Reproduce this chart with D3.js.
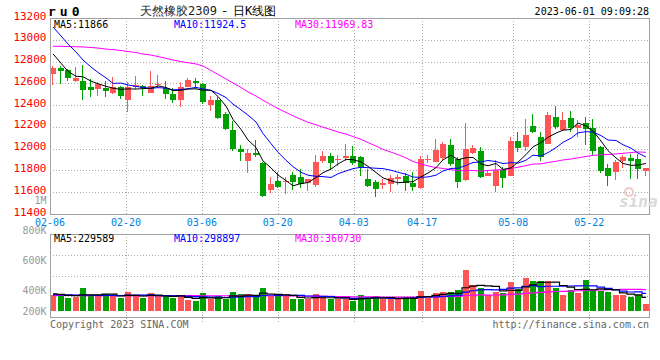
<!DOCTYPE html>
<html><head><meta charset="utf-8">
<script src="https://cdn.jsdelivr.net/npm/d3@7"></script>
<style>
html,body{margin:0;padding:0;background:#fff;}
svg{display:block;}
text{font-family:"DejaVu Sans Mono",monospace;}
</style></head><body>
<svg id="c" width="660" height="360"></svg>
<script>
// ---------- DATA ----------
const dates = [
 "02-06","02-07","02-08","02-09","02-10","02-13","02-14","02-15","02-16","02-17",
 "02-20","02-21","02-22","02-23","02-24","02-27","02-28","03-01","03-02","03-03",
 "03-06","03-07","03-08","03-09","03-10","03-13","03-14","03-15","03-16","03-17",
 "03-20","03-21","03-22","03-23","03-24","03-27","03-28","03-29","03-30","03-31",
 "04-03","04-04","04-06","04-07","04-10","04-11","04-12","04-13","04-14","04-17",
 "04-18","04-19","04-20","04-21","04-24","04-25","04-26","04-27","04-28","05-04",
 "05-05","05-08","05-09","05-10","05-11","05-12","05-15","05-16","05-17","05-18",
 "05-19","05-22","05-23","05-24","05-25","05-26","05-29","05-30","05-31","06-01"];
const open = [
 12690,12740,12722,12621,12621,12566,12551,12560,12505,12566,
 12447,12569,12575,12514,12588,12554,12505,12447,12569,12621,
 12597,12404,12447,12321,12171,12000,11890,11960,11868,11617,
 11703,11694,11758,11737,11685,11669,11887,11930,11896,11914,
 11933,11923,11721,11691,11666,11672,11721,11752,11682,11639,
 11899,11881,11917,12034,11908,11715,11954,11979,11752,11660,
 11801,11752,12070,12018,12208,12104,12049,12291,12171,12282,
 12193,12233,12187,12015,11822,11789,11881,11911,11902,11792];
const high = [
 12755,12760,12731,12750,12768,12640,12612,12621,12658,12575,
 12612,12667,12582,12713,12676,12621,12554,12612,12649,12649,
 12600,12484,12477,12337,12254,12031,12000,12080,11875,11740,
 11783,11740,11789,11810,11721,11940,11975,11960,11939,12043,
 12024,11930,11810,11709,11718,11761,11767,11773,11783,11933,
 11942,12086,12064,12086,11920,12236,12034,12015,11807,11896,
 11835,12110,12156,12272,12315,12156,12340,12392,12340,12346,
 12260,12291,12272,12021,11859,11893,11942,11951,11951,11822];
const low = [
 12585,12595,12624,12612,12447,12477,12484,12477,12505,12456,
 12340,12548,12487,12514,12557,12459,12422,12386,12569,12551,
 12410,12346,12275,12171,11975,11890,11780,11927,11555,11590,
 11642,11581,11623,11642,11614,11645,11871,11801,11841,11887,
 11850,11749,11651,11559,11630,11605,11666,11614,11614,11633,
 11865,11881,11896,11841,11642,11706,11954,11734,11752,11599,
 11642,11746,11972,11979,12147,11884,12043,12178,12165,12153,
 12107,12034,11945,11780,11660,11715,11822,11718,11724,11746];
const close = [
 12745,12715,12652,12649,12542,12542,12597,12533,12563,12487,
 12566,12588,12554,12575,12597,12496,12447,12566,12631,12606,
 12432,12447,12282,12187,11994,11975,11960,11939,11568,11675,
 11648,11706,11697,11672,11721,11877,11930,11862,11905,11933,
 11865,11829,11657,11623,11685,11731,11740,11685,11645,11905,
 11905,11988,12043,11859,11697,11997,12003,11740,11777,11804,
 11724,12070,12006,12125,12156,11923,12312,12199,12260,12190,
 12217,12174,11972,11798,11749,11881,11920,11887,11810,11822];
const volume = [
 263000,246000,218000,235000,386000,263000,246000,280000,246000,224000,
 319000,246000,224000,297000,246000,246000,218000,263000,179000,162000,
 302000,196000,246000,207000,314000,280000,280000,235000,386000,246000,
 246000,246000,196000,207000,196000,280000,235000,196000,196000,196000,
 162000,263000,235000,246000,196000,196000,196000,235000,235000,330000,
 218000,297000,314000,314000,347000,683000,431000,386000,263000,314000,
 297000,482000,375000,549000,498000,498000,498000,386000,263000,358000,
 302000,515000,347000,336000,314000,263000,263000,235000,275000,112000];
// moving-average values before enough in-window history exists
const ma5Head  = [12870,12785,12710,12665];
const ma10Head = [13117,13035,12961,12888,12814,12750,12700,12650,12600];
const ma30Head = [12940,12940,12938,12936,12934,12929,12924,12915,12909,12902,
                  12892,12883,12869,12860,12846,12830,12814,12800,12789,12778,
                  12759,12718,12681,12640,12603,12562,12520,12484,12445];
const vma5Head  = [290000,280000,262000,258000];
const vma10Head = [275000,272000,270000,268000,266000,265000,264000,262000,261000];
const vma30Head = [262000,262000,261000,261000,260000,260000,260000,259000,259000,259000,
                   258000,258000,258000,258000,257000,257000,257000,257000,257000,257000,
                   256000,256000,256000,256000,256000,256000,256000,256000,256000];
const priceTicks = [11400,11600,11800,12000,12200,12400,12600,12800,13000,13200];
const volTicks = [200000,400000,600000,800000,1000000];
const volTickLabels = ["200K","400K","600K","800K","1M"];
const dateTicks = ["02-06","02-20","03-06","03-20","04-03","04-17","05-08","05-22"];
const symbol = "ru0";
const titleName = "天然橡胶2309";
const titleSuffix = "日K线图";
const timestamp = "2023-06-01 09:09:28";
const maLabels = ["MA5:11866","MA10:11924.5","MA30:11969.83"];
const vmaLabels = ["MA5:229589","MA10:298897","MA30:360730"];

// ---------- LAYOUT ----------
const L = 50, R = 650;
const pTop = 18, pBot = 214;
const vTop = 234, vBot = 317;
const UP = "#ff5555", DOWN = "#00a000";
const C5 = "#000000", C10 = "#0000ff", C30 = "#ff00ff";
const GRID = "#aaaaaa", FRAME = "#a0a0a0";

const svg = d3.select("#c");
const xb = d3.scaleBand().domain(dates).range([L, 648.5]).paddingInner(0.2).paddingOuter(0);
const xg = d3.scalePoint().domain(dates).range([L, R]);
const y = d3.scaleLinear().domain([11400, 13200]).range([pBot, pTop]);
const vy = d3.scaleLinear().domain([0, 1000000]).range([311, 251.5]);
const vLab = d3.scaleLinear().domain([200000, 1000000]).range([324, 204]);

const bx = d => Math.round(xb(d));
function ma(arr, n, head) {
  return arr.map((_, i) => i >= n - 1 ? d3.mean(arr.slice(i - n + 1, i + 1)) : head[i]);
}

svg.append("defs").call(d => {
  d.append("clipPath").attr("id", "pc").append("rect").attr("x", L).attr("y", pTop).attr("width", R - L).attr("height", pBot - pTop);
  d.append("clipPath").attr("id", "vc").append("rect").attr("x", L).attr("y", vTop).attr("width", R - L).attr("height", vBot - vTop);
});

// ---------- PRICE PANEL GRID ----------
const gP = svg.append("g").attr("shape-rendering", "crispEdges");
gP.selectAll(".hg").data(priceTicks.filter(v => v > 11400 && v < 13200)).join("line")
  .attr("x1", L).attr("x2", R).attr("y1", d => Math.round(y(d)) + 0.5).attr("y2", d => Math.round(y(d)) + 0.5)
  .attr("stroke", GRID).attr("stroke-dasharray", "1,2");
gP.selectAll(".vg").data(dateTicks.slice(1)).join("line")
  .attr("x1", d => Math.round(xg(d)) + 0.5).attr("x2", d => Math.round(xg(d)) + 0.5)
  .attr("y1", pTop).attr("y2", pBot + 2)
  .attr("stroke", GRID).attr("stroke-dasharray", "1,2");

// ---------- VOLUME PANEL GRID ----------
const gV = svg.append("g").attr("shape-rendering", "crispEdges");
const vLines = d3.range(1, 4).map(k => vTop + k * (vBot - vTop) / 4);
gV.selectAll(".hg").data(vLines).join("line")
  .attr("x1", L).attr("x2", R).attr("y1", d => Math.round(d) + 0.5).attr("y2", d => Math.round(d) + 0.5)
  .attr("stroke", GRID).attr("stroke-dasharray", "1,2");
gV.selectAll(".vg").data(dateTicks.slice(1)).join("line")
  .attr("x1", d => Math.round(xg(d)) + 0.5).attr("x2", d => Math.round(xg(d)) + 0.5)
  .attr("y1", vTop).attr("y2", vBot + 5)
  .attr("stroke", GRID).attr("stroke-dasharray", "1,2");

// ---------- CANDLES ----------
const idx = d3.range(dates.length);
const gC = svg.append("g").attr("clip-path", "url(#pc)").attr("shape-rendering", "crispEdges");
gC.selectAll(".wick").data(idx).join("line")
  .attr("x1", i => bx(dates[i]) + 2.5).attr("x2", i => bx(dates[i]) + 2.5)
  .attr("y1", i => y(high[i])).attr("y2", i => y(low[i]))
  .attr("stroke", i => close[i] >= open[i] ? UP : DOWN);
gC.selectAll(".body").data(idx).join("rect")
  .attr("x", i => bx(dates[i])).attr("width", 6)
  .attr("y", i => Math.round(y(Math.max(open[i], close[i]))))
  .attr("height", i => Math.max(1, Math.round(Math.abs(y(open[i]) - y(close[i])))))
  .attr("fill", i => close[i] >= open[i] ? UP : DOWN);

// MA lines (price)
const ma5 = ma(close, 5, ma5Head), ma10 = ma(close, 10, ma10Head), ma30 = ma(close, 30, ma30Head);
const gM = svg.append("g").attr("clip-path", "url(#pc)");
[[ma30, C30], [ma10, C10], [ma5, C5]].forEach(([arr, col]) => {
  gM.append("path").datum(idx)
    .attr("d", d3.line().x(i => bx(dates[i]) + 3).y(i => y(arr[i])))
    .attr("fill", "none").attr("stroke", col).attr("stroke-width", 1);
});

// ---------- VOLUME ----------
const gB = svg.append("g").attr("clip-path", "url(#vc)").attr("shape-rendering", "crispEdges");
gB.selectAll("rect").data(idx).join("rect")
  .attr("x", i => bx(dates[i])).attr("width", 6)
  .attr("y", i => Math.round(vy(volume[i])))
  .attr("height", i => Math.round(vy(0)) - Math.round(vy(volume[i])))
  .attr("fill", i => close[i] >= open[i] ? UP : DOWN);
const vma5 = ma(volume, 5, vma5Head), vma10 = ma(volume, 10, vma10Head), vma30 = ma(volume, 30, vma30Head);
const gVM = svg.append("g").attr("clip-path", "url(#vc)");
[[vma30, C30], [vma10, C10], [vma5, C5]].forEach(([arr, col]) => {
  gVM.append("path").datum(idx)
    .attr("d", d3.line().x(i => bx(dates[i]) + 3).y(i => vy(arr[i])).curve(d3.curveStep))
    .attr("fill", "none").attr("stroke", col).attr("stroke-width", 1.2);
});

// ---------- FRAMES ----------
const gF = svg.append("g").attr("shape-rendering", "crispEdges").attr("fill", "none").attr("stroke", FRAME);
gF.append("rect").attr("x", L + 0.5).attr("y", pTop + 0.5).attr("width", R - L - 1).attr("height", pBot - pTop);
gF.append("rect").attr("x", L + 0.5).attr("y", vTop + 0.5).attr("width", R - L - 1).attr("height", vBot - vTop);

// ---------- TEXT ----------
svg.append("g").selectAll("text").data(priceTicks).join("text")
  .attr("x", 46.5).attr("y", d => y(d) + 1.5).attr("text-anchor", "end")
  .attr("font-size", 11).attr("fill", "#ff0000").text(d => d);
svg.append("g").selectAll("text").data(volTicks).join("text")
  .attr("x", 46.5).attr("y", d => Math.min(vLab(d), 314.5)).attr("text-anchor", "end")
  .attr("font-size", 10).attr("fill", "#999999").text((d, i) => volTickLabels[i]);
svg.append("g").selectAll("text").data(dateTicks).join("text")
  .attr("x", d => xg(d)).attr("y", 225.5).attr("text-anchor", "middle")
  .attr("font-size", 10).attr("fill", "#0080e0").text(d => d);

svg.append("text").attr("x", 48).attr("y", 16).attr("font-family", "Liberation Mono")
  .attr("font-weight", "bold").attr("font-size", 13).attr("letter-spacing", 4).text(symbol);
svg.append("text").attr("x", 140).attr("y", 15).attr("font-family", "Noto Sans CJK SC")
  .attr("font-size", 12).attr("fill", "#222").text(titleName);
svg.append("text").attr("x", 221).attr("y", 15).attr("font-family", "Noto Sans CJK SC")
  .attr("font-size", 12).text("-");
svg.append("text").attr("x", 233).attr("y", 15).attr("font-family", "Noto Sans CJK SC")
  .attr("font-size", 12).text(titleSuffix);
svg.append("text").attr("x", 649).attr("y", 15).attr("text-anchor", "end")
  .attr("font-size", 10).text(timestamp);

const labX = [54, 174, 295], labC = [C5, C10, C30];
svg.append("g").selectAll("text").data(maLabels).join("text")
  .attr("x", (d, i) => labX[i]).attr("y", 27.5).attr("font-size", 10)
  .attr("fill", (d, i) => labC[i]).text(d => d);
svg.append("g").selectAll("text").data(vmaLabels).join("text")
  .attr("x", (d, i) => labX[i]).attr("y", 242).attr("font-size", 10)
  .attr("fill", (d, i) => labC[i]).text(d => d);

svg.append("text").attr("x", 50).attr("y", 327.5).attr("font-size", 10).attr("fill", "#666").text("Copyright 2023 SINA.COM");
svg.append("text").attr("x", 649).attr("y", 327.5).attr("text-anchor", "end").attr("font-size", 10).attr("fill", "#666").text("http://finance.sina.com.cn");

// watermark
svg.append("circle").attr("cx", 629).attr("cy", 192).attr("r", 4).attr("fill", "none").attr("stroke", "#f3c6c6").attr("stroke-width", 2);
svg.append("text").attr("x", 619).attr("y", 207).attr("font-family", "DejaVu Sans").attr("font-style", "italic")
  .attr("font-weight", "bold").attr("font-size", 16).attr("fill", "#d9d9d9").text("sina");
</script>
</body></html>
